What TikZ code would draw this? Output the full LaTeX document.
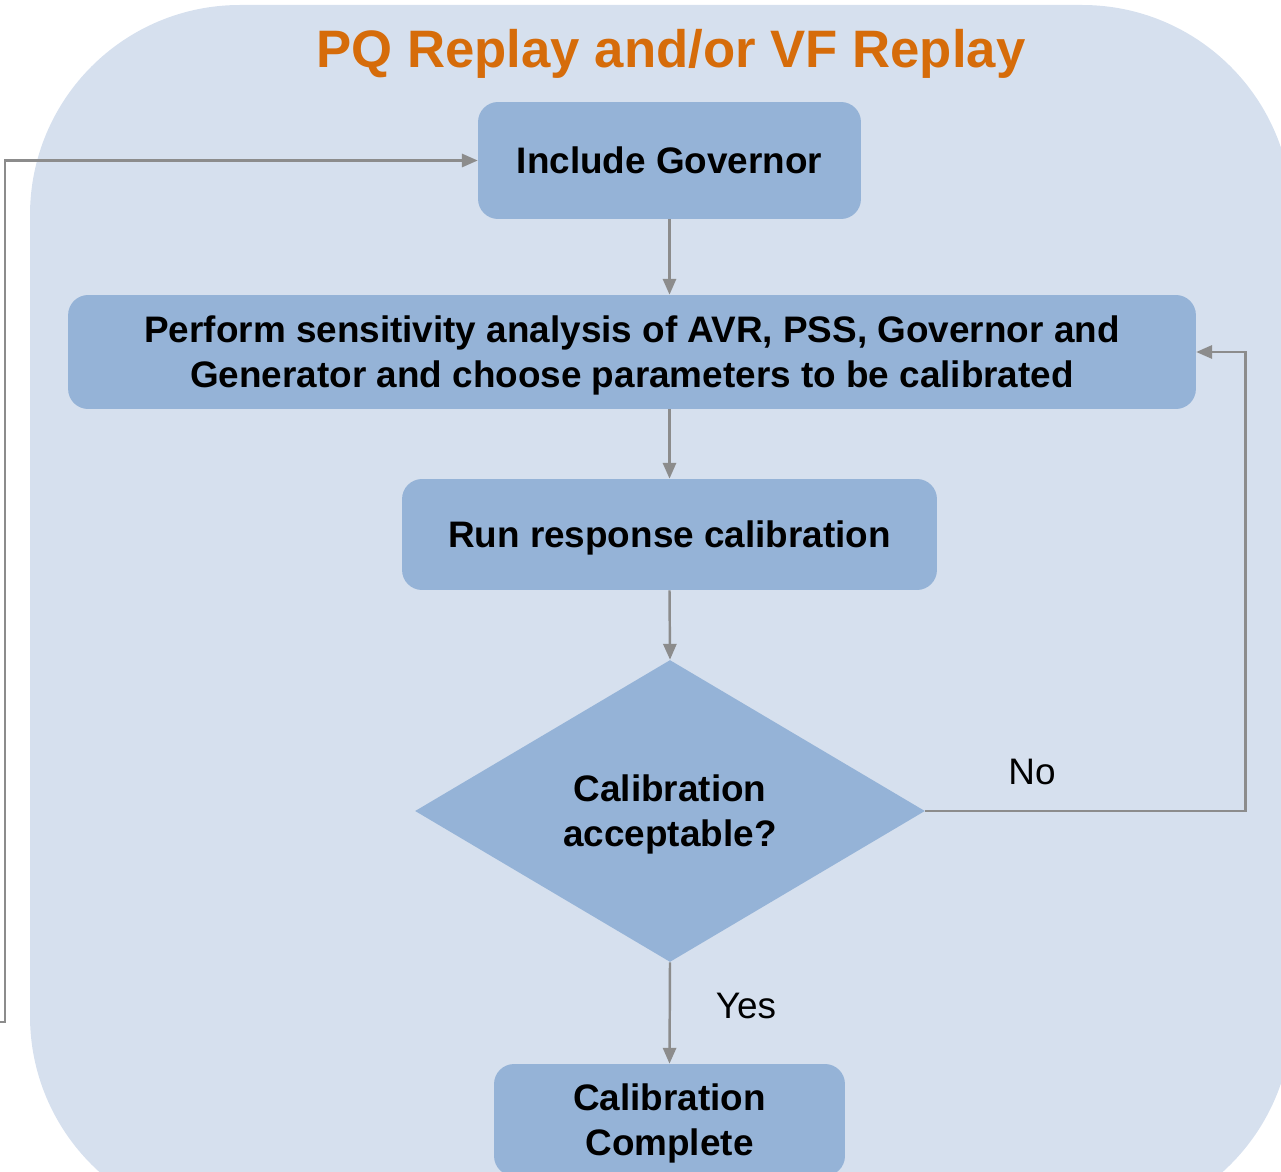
\documentclass[tikz,border=0pt]{standalone}
\usepackage{fontspec}
\setmainfont{Liberation Sans}
\usetikzlibrary{positioning,shapes.geometric,arrows.meta}
\definecolor{panelblue}{RGB}{214,224,238}
\definecolor{boxblue}{RGB}{149,179,215}
\definecolor{titleorange}{RGB}{214,108,10}
\definecolor{linegray}{RGB}{140,140,140}

\begin{document}
\begin{tikzpicture}[x=0.02cm,y=-0.02cm,
    stepbox/.style={rectangle,rounded corners=0.4cm,fill=boxblue,align=center,inner sep=0pt,
        text depth=0pt,font=\fontsize{21}{25.6}\selectfont\bfseries},
    check/.style={diamond,fill=boxblue,align=center,inner sep=0pt,
        text depth=0pt,font=\fontsize{21}{25.6}\selectfont\bfseries},
    flow/.style={-{Triangle[length=9pt,width=7.5pt]},line width=1.4pt,linegray},
    lbl/.style={font=\fontsize{21}{25.6}\selectfont}]

    \useasboundingbox (0,0) rectangle (1281,1172);

    % Panel
    \begin{scope}
        \clip (0,0) rectangle (1281,1172);
        \fill[panelblue,rounded corners=4.2cm] (30,5) rectangle (1292,1226);
    \end{scope}
    \node[anchor=base,text=titleorange,font=\fontsize{30}{36}\selectfont\bfseries] (title) at (671,68)
        {PQ Replay and/or VF Replay};

    % Steps
    \node[stepbox,minimum width=7.66cm,minimum height=2.34cm] (gov) at (669.5,160.5)
        {Include Governor};
    \node[stepbox,minimum width=22.56cm,minimum height=2.28cm] (perform) at (632,352)
        {Perform sensitivity analysis of AVR, PSS, Governor and\\
         Generator and choose parameters to be calibrated};
    \node[stepbox,minimum width=10.7cm,minimum height=2.22cm] (run) at (669.5,534.5)
        {Run response calibration};
    \node[check,minimum width=10.2cm,minimum height=6.04cm] (check) at (670,811)
        {Calibration\\acceptable?};
    \node[stepbox,minimum width=7.02cm,minimum height=2.24cm] (complete) at (669.5,1120)
        {Calibration\\Complete};

    % Arrows
    \draw[flow] (gov.south) -- (gov.south |- perform.north);
    \draw[flow] (run.north |- perform.south) -- (run.north);
    \draw[flow] (run.south) -- (check.north);
    \draw[flow] (check.south) -- (complete.north);
    \draw[flow] (check.east) -- ++(320,0) |- (perform.east);
    \coordinate (loopstart) at (0,1022);
    \draw[flow] (loopstart) -- ++(5,0) |- (gov.west);

    % Labels
    \node[lbl] (nolabel) at (1032,772) {No};
    \node[lbl] (yeslabel) at (746,1006) {Yes};

\end{tikzpicture}
\end{document}
